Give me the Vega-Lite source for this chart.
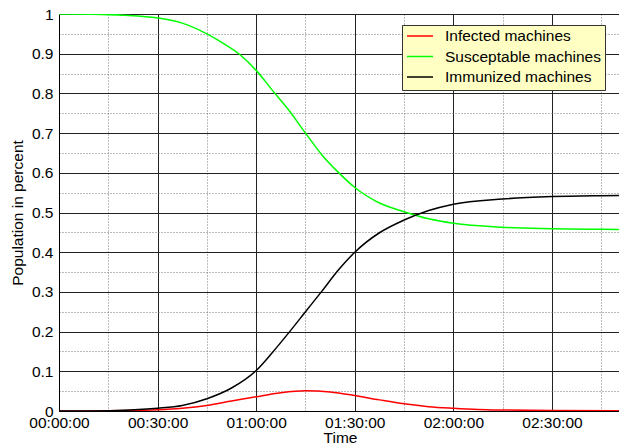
{
  "$schema": "https://vega.github.io/schema/vega-lite/v6.json",
  "autosize": "none",
  "padding": {"left": 59, "top": 14, "right": 0, "bottom": 35},
  "width": 562,
  "height": 397,
  "background": "white",
  "view": {"stroke": "black", "strokeWidth": 1},
  "config": {
    "font": "Liberation Sans",
    "axis": {
      "labelFont": "Liberation Sans",
      "titleFont": "Liberation Sans",
      "labelFontSize": 15.5,
      "titleFontSize": 15.5,
      "titleFontWeight": "normal",
      "labelColor": "black",
      "titleColor": "black",
      "domainColor": "black",
      "ticks": false,
      "tickSize": 0,
      "labelOverlap": false,
      "labelFlush": false,
      "gridOpacity": 1
    },
    "legend": {
      "labelFont": "Liberation Sans",
      "labelFontSize": 15.5,
      "labelColor": "black"
    }
  },
  "data": {
    "values": [
      {"t": 0, "v": 0, "series": "Infected machines"},
      {"t": 10, "v": 0.0002, "series": "Infected machines"},
      {"t": 20, "v": 0.001, "series": "Infected machines"},
      {"t": 30, "v": 0.003, "series": "Infected machines"},
      {"t": 37.5, "v": 0.007, "series": "Infected machines"},
      {"t": 45, "v": 0.014, "series": "Infected machines"},
      {"t": 52.5, "v": 0.025, "series": "Infected machines"},
      {"t": 60, "v": 0.036, "series": "Infected machines"},
      {"t": 67.5, "v": 0.046, "series": "Infected machines"},
      {"t": 75, "v": 0.051, "series": "Infected machines"},
      {"t": 82.5, "v": 0.048, "series": "Infected machines"},
      {"t": 90, "v": 0.039, "series": "Infected machines"},
      {"t": 97.5, "v": 0.028, "series": "Infected machines"},
      {"t": 105, "v": 0.018, "series": "Infected machines"},
      {"t": 112.5, "v": 0.011, "series": "Infected machines"},
      {"t": 120, "v": 0.007, "series": "Infected machines"},
      {"t": 127.5, "v": 0.004, "series": "Infected machines"},
      {"t": 135, "v": 0.0025, "series": "Infected machines"},
      {"t": 150, "v": 0.001, "series": "Infected machines"},
      {"t": 171, "v": 0.0003, "series": "Infected machines"},
      {"t": 0, "v": 1.0, "series": "Susceptable machines"},
      {"t": 10, "v": 0.9995, "series": "Susceptable machines"},
      {"t": 20, "v": 0.997, "series": "Susceptable machines"},
      {"t": 30, "v": 0.99, "series": "Susceptable machines"},
      {"t": 37.5, "v": 0.977, "series": "Susceptable machines"},
      {"t": 45, "v": 0.95, "series": "Susceptable machines"},
      {"t": 50, "v": 0.926, "series": "Susceptable machines"},
      {"t": 55, "v": 0.898, "series": "Susceptable machines"},
      {"t": 60, "v": 0.858, "series": "Susceptable machines"},
      {"t": 65, "v": 0.807, "series": "Susceptable machines"},
      {"t": 70, "v": 0.757, "series": "Susceptable machines"},
      {"t": 75, "v": 0.7, "series": "Susceptable machines"},
      {"t": 80, "v": 0.645, "series": "Susceptable machines"},
      {"t": 85, "v": 0.601, "series": "Susceptable machines"},
      {"t": 90, "v": 0.563, "series": "Susceptable machines"},
      {"t": 97.5, "v": 0.524, "series": "Susceptable machines"},
      {"t": 105, "v": 0.502, "series": "Susceptable machines"},
      {"t": 112.5, "v": 0.484, "series": "Susceptable machines"},
      {"t": 120, "v": 0.4727, "series": "Susceptable machines"},
      {"t": 135, "v": 0.4627, "series": "Susceptable machines"},
      {"t": 150, "v": 0.4593, "series": "Susceptable machines"},
      {"t": 165, "v": 0.4576, "series": "Susceptable machines"},
      {"t": 171, "v": 0.457, "series": "Susceptable machines"},
      {"t": 0, "v": 0, "series": "Immunized machines"},
      {"t": 10, "v": 0.0003, "series": "Immunized machines"},
      {"t": 20, "v": 0.002, "series": "Immunized machines"},
      {"t": 30, "v": 0.007, "series": "Immunized machines"},
      {"t": 37.5, "v": 0.014, "series": "Immunized machines"},
      {"t": 45, "v": 0.031, "series": "Immunized machines"},
      {"t": 52.5, "v": 0.058, "series": "Immunized machines"},
      {"t": 60, "v": 0.102, "series": "Immunized machines"},
      {"t": 65, "v": 0.148, "series": "Immunized machines"},
      {"t": 70, "v": 0.198, "series": "Immunized machines"},
      {"t": 75, "v": 0.25, "series": "Immunized machines"},
      {"t": 80, "v": 0.302, "series": "Immunized machines"},
      {"t": 85, "v": 0.355, "series": "Immunized machines"},
      {"t": 90, "v": 0.4, "series": "Immunized machines"},
      {"t": 97.5, "v": 0.449, "series": "Immunized machines"},
      {"t": 105, "v": 0.481, "series": "Immunized machines"},
      {"t": 112.5, "v": 0.505, "series": "Immunized machines"},
      {"t": 120, "v": 0.521, "series": "Immunized machines"},
      {"t": 135, "v": 0.534, "series": "Immunized machines"},
      {"t": 150, "v": 0.54, "series": "Immunized machines"},
      {"t": 165, "v": 0.5424, "series": "Immunized machines"},
      {"t": 171, "v": 0.543, "series": "Immunized machines"}
    ]
  },
  "mark": {"type": "line", "interpolate": "monotone", "strokeWidth": 1.5, "clip": true},
  "encoding": {
    "x": {
      "field": "t",
      "type": "quantitative",
      "scale": {"domain": [0, 171], "nice": false, "zero": false},
      "axis": {
        "title": "Time",
        "values": [0, 15, 30, 45, 60, 75, 90, 105, 120, 135, 150, 165],
        "labelExpr": "datum.value % 30 == 0 ? timeFormat(datetime(2000, 0, 1, 0, datum.value, 0, 0), '%H:%M:%S') : ''",
        "labelPadding": 4,
        "titlePadding": 0,
        "grid": true,
        "gridColor": {"condition": {"test": "datum.value % 30 == 15", "value": "#777777"}, "value": "#222222"},
        "gridDash": {"condition": {"test": "datum.value % 30 == 15", "value": [1, 2]}, "value": []},
        "gridWidth": 1
      }
    },
    "y": {
      "field": "v",
      "type": "quantitative",
      "scale": {"domain": [0, 1], "nice": false},
      "axis": {
        "title": "Population in percent",
        "values": [0, 0.05, 0.1, 0.15, 0.2, 0.25, 0.3, 0.35, 0.4, 0.45, 0.5, 0.55, 0.6, 0.65, 0.7, 0.75, 0.8, 0.85, 0.9, 0.95, 1],
        "labelExpr": "round(datum.value * 20) % 2 == 1 ? '' : format(datum.value, '~g')",
        "labelPadding": 6,
        "titlePadding": 6,
        "grid": true,
        "gridColor": {"condition": {"test": "round(datum.value * 20) % 2 == 1", "value": "#777777"}, "value": "#222222"},
        "gridDash": {"condition": {"test": "round(datum.value * 20) % 2 == 1", "value": [1, 2]}, "value": []},
        "gridWidth": 1
      }
    },
    "color": {
      "field": "series",
      "type": "nominal",
      "scale": {
        "domain": ["Infected machines", "Susceptable machines", "Immunized machines"],
        "range": ["#ff0000", "#00ff00", "#000000"]
      },
      "legend": {
        "title": null,
        "orient": "none",
        "legendX": 343,
        "legendY": 11,
        "symbolType": "stroke",
        "symbolSize": 676,
        "symbolStrokeWidth": 1.5,
        "clipHeight": 14,
        "rowPadding": 4.5,
        "padding": 4,
        "labelOffset": 11,
        "fillColor": "#ffffc4",
        "strokeColor": "#333333",
        "labelLimit": 400
      }
    }
  }
}
